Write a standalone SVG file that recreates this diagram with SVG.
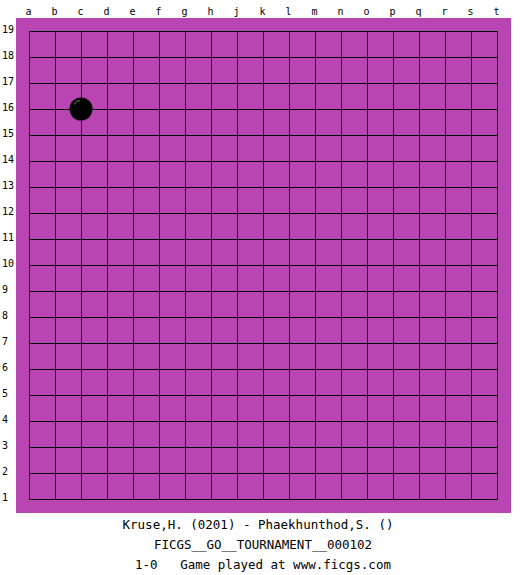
<svg xmlns="http://www.w3.org/2000/svg" width="525" height="575" viewBox="0 0 525 575">
<style>
.lbl{font-family:"DejaVu Sans Mono","Liberation Mono",monospace;font-size:10px;fill:#000}
.col{text-anchor:middle}
.cap{font-family:"DejaVu Sans Mono","Liberation Mono",monospace;font-size:12.5px;fill:#000;text-anchor:middle}
.g line{stroke:#000;stroke-width:1}
</style>
<rect width="525" height="575" fill="#fff"/>
<g id="board">
<rect x="16" y="18" width="495" height="495" fill="#b845b2"/>
</g>
<g id="grid" class="g">
<line x1="29.5" y1="31.5" x2="497.5" y2="31.5"/>
<line x1="29.5" y1="57.5" x2="497.5" y2="57.5"/>
<line x1="29.5" y1="83.5" x2="497.5" y2="83.5"/>
<line x1="29.5" y1="109.5" x2="497.5" y2="109.5"/>
<line x1="29.5" y1="135.5" x2="497.5" y2="135.5"/>
<line x1="29.5" y1="161.5" x2="497.5" y2="161.5"/>
<line x1="29.5" y1="187.5" x2="497.5" y2="187.5"/>
<line x1="29.5" y1="213.5" x2="497.5" y2="213.5"/>
<line x1="29.5" y1="239.5" x2="497.5" y2="239.5"/>
<line x1="29.5" y1="265.5" x2="497.5" y2="265.5"/>
<line x1="29.5" y1="291.5" x2="497.5" y2="291.5"/>
<line x1="29.5" y1="317.5" x2="497.5" y2="317.5"/>
<line x1="29.5" y1="343.5" x2="497.5" y2="343.5"/>
<line x1="29.5" y1="369.5" x2="497.5" y2="369.5"/>
<line x1="29.5" y1="395.5" x2="497.5" y2="395.5"/>
<line x1="29.5" y1="421.5" x2="497.5" y2="421.5"/>
<line x1="29.5" y1="447.5" x2="497.5" y2="447.5"/>
<line x1="29.5" y1="473.5" x2="497.5" y2="473.5"/>
<line x1="29.5" y1="499.5" x2="497.5" y2="499.5"/>
<line x1="29.5" y1="31.5" x2="29.5" y2="499.5"/>
<line x1="55.5" y1="31.5" x2="55.5" y2="499.5"/>
<line x1="81.5" y1="31.5" x2="81.5" y2="499.5"/>
<line x1="107.5" y1="31.5" x2="107.5" y2="499.5"/>
<line x1="133.5" y1="31.5" x2="133.5" y2="499.5"/>
<line x1="159.5" y1="31.5" x2="159.5" y2="499.5"/>
<line x1="185.5" y1="31.5" x2="185.5" y2="499.5"/>
<line x1="211.5" y1="31.5" x2="211.5" y2="499.5"/>
<line x1="237.5" y1="31.5" x2="237.5" y2="499.5"/>
<line x1="263.5" y1="31.5" x2="263.5" y2="499.5"/>
<line x1="289.5" y1="31.5" x2="289.5" y2="499.5"/>
<line x1="315.5" y1="31.5" x2="315.5" y2="499.5"/>
<line x1="341.5" y1="31.5" x2="341.5" y2="499.5"/>
<line x1="367.5" y1="31.5" x2="367.5" y2="499.5"/>
<line x1="393.5" y1="31.5" x2="393.5" y2="499.5"/>
<line x1="419.5" y1="31.5" x2="419.5" y2="499.5"/>
<line x1="445.5" y1="31.5" x2="445.5" y2="499.5"/>
<line x1="471.5" y1="31.5" x2="471.5" y2="499.5"/>
<line x1="497.5" y1="31.5" x2="497.5" y2="499.5"/>
</g>
<g id="stone-c16">
<circle cx="81" cy="109" r="11.5" fill="#000"/>
<path d="M74.5 104.5 A6 6 0 0 1 80 100.5" fill="none" stroke="#777" stroke-width="1"/>
</g>
<g id="col-labels" class="lbl col">
<text x="28.5" y="15">a</text><text x="54.5" y="15">b</text><text x="80.5" y="15">c</text><text x="106.5" y="15">d</text><text x="132.5" y="15">e</text><text x="158.5" y="15">f</text><text x="184.5" y="15">g</text><text x="210.5" y="15">h</text><text x="236.5" y="15">j</text><text x="262.5" y="15">k</text><text x="288.5" y="15">l</text><text x="314.5" y="15">m</text><text x="340.5" y="15">n</text><text x="366.5" y="15">o</text><text x="392.5" y="15">p</text><text x="418.5" y="15">q</text><text x="444.5" y="15">r</text><text x="470.5" y="15">s</text><text x="496.5" y="15">t</text>
</g>
<g id="row-labels" class="lbl">
<text x="2" y="33">19</text><text x="2" y="59">18</text><text x="2" y="85">17</text><text x="2" y="111">16</text><text x="2" y="137">15</text><text x="2" y="163">14</text><text x="2" y="189">13</text><text x="2" y="215">12</text><text x="2" y="241">11</text><text x="2" y="267">10</text><text x="2" y="293">9</text><text x="2" y="319">8</text><text x="2" y="345">7</text><text x="2" y="371">6</text><text x="2" y="397">5</text><text x="2" y="423">4</text><text x="2" y="449">3</text><text x="2" y="475">2</text><text x="2" y="501">1</text>
</g>
<g id="caption" class="cap">
<text x="258" y="529">Kruse,H. (0201) - Phaekhunthod,S. ()</text>
<text x="263" y="549">FICGS__GO__TOURNAMENT__000102</text>
<text x="263" y="569" xml:space="preserve">1-0   Game played at www.ficgs.com</text>
</g>
</svg>
